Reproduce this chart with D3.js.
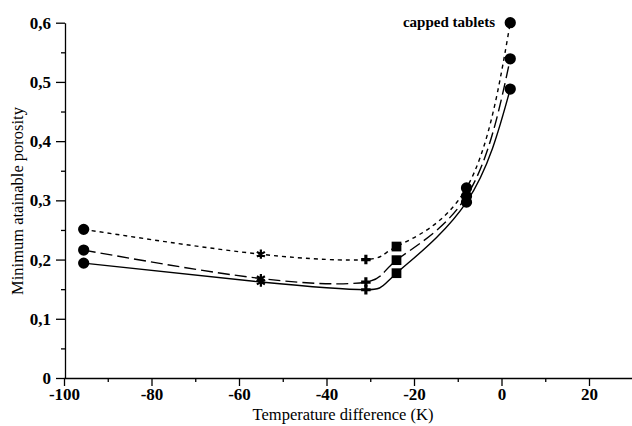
<html>
<head>
<meta charset="utf-8">
<style>
  body { margin: 0; background: #fff; }
  text { font-family: "Liberation Serif", "DejaVu Serif", serif; fill: #000; }
  .tick text { font-weight: bold; font-size: 17px; }
  .axis path, .axis line { stroke: #000; stroke-width: 1.3; }
  .curve { fill: none; stroke: #000; stroke-width: 1.4; }
</style>
</head>
<body>
<svg id="chart" width="632" height="426"></svg>
<script src="https://cdn.jsdelivr.net/npm/d3@7"></script>
<script>
// temperature difference (K) of the measured points
const tempDiff = [-95.5, -55, -31, -24, -8, 2]
const markerType = ["circle", "star", "cross", "square", "circle", "circle"]
// minimum atainable porosity, three curves
const upperSeries = [0.251, 0.209, 0.200, 0.222, 0.321, 0.600]
const middleSeries = [0.216, 0.168, 0.162, 0.199, 0.307, 0.539]
const lowerSeries = [0.194, 0.162, 0.149, 0.177, 0.297, 0.488]
const xTicks = [-100, -80, -60, -40, -20, 0, 20]
const yTicks = [0, 0.1, 0.2, 0.3, 0.4, 0.5, 0.6]

let svg = d3.select("#chart")

let x = d3.scaleLinear().domain([-100, 30]).range([64, 632.75])
let y = d3.scaleLinear().domain([0, 0.6]).range([378, 22.7])

let comma = d => d === 0 ? "0" : d3.format(".1f")(d).replace(".", ",")

// x axis
svg.append("g").attr("class", "axis")
    .attr("transform", "translate(0,378)")
    .call(d3.axisBottom(x).tickValues(xTicks).tickSize(8).tickSizeOuter(0).tickPadding(2)
        .tickFormat(d => String(d)))
svg.append("g").attr("class", "axis")
    .attr("transform", "translate(0,378)")
    .call(d3.axisBottom(x).tickValues(d3.range(-90, 31, 20)).tickSize(4).tickFormat(""))
    .select(".domain").remove()

// y axis
svg.append("g").attr("class", "axis")
    .attr("transform", "translate(65,0)")
    .call(d3.axisLeft(y).tickValues(yTicks).tickSize(9).tickSizeOuter(0).tickPadding(5).tickFormat(comma))
svg.append("g").attr("class", "axis")
    .attr("transform", "translate(65,0)")
    .call(d3.axisLeft(y).tickValues([0.05, 0.15, 0.25, 0.35, 0.45, 0.55]).tickSize(4).tickFormat(""))
    .select(".domain").remove()

// axis titles
svg.append("text")
    .attr("x", 343).attr("y", 420)
    .attr("text-anchor", "middle")
    .style("font-size", "16.5px")
    .text("Temperature difference (K)")
svg.append("text")
    .attr("transform", "translate(23,201) rotate(-90)")
    .attr("text-anchor", "middle")
    .style("font-size", "16.5px")
    .text("Minimum atainable porosity")

// curves
let curves = [
    { values: upperSeries, dash: "4,4" },
    { values: middleSeries, dash: "12,5" },
    { values: lowerSeries, dash: null }
]
let line = d3.line()
    .x((d, i) => x(tempDiff[i]))
    .y(d => y(d))
    .curve(d3.curveNatural)

svg.selectAll(".curve")
    .data(curves)
    .enter().append("path")
    .attr("class", "curve")
    .attr("d", d => line(d.values))
    .attr("stroke-dasharray", d => d.dash)

// markers
let symbols = {
    circle: d3.symbol().type(d3.symbolCircle).size(100),
    star: d3.symbol().type(d3.symbolAsterisk).size(60),
    cross: d3.symbol().type(d3.symbolCross).size(50),
    square: d3.symbol().type(d3.symbolSquare).size(95)
}
let points = []
curves.forEach(c => c.values.forEach((v, i) => points.push({ t: tempDiff[i], v: v, type: markerType[i] })))

svg.selectAll(".pt")
    .data(points)
    .enter().append("path")
    .attr("class", "pt")
    .attr("transform", d => "translate(" + x(d.t) + "," + y(d.v) + ")")
    .attr("d", d => symbols[d.type]())
    .attr("fill", "#000")
    .attr("stroke", "#000")
    .attr("stroke-width", d => d.type == "star" ? 2.2 : 0)

svg.append("text")
    .attr("x", 495).attr("y", 27)
    .attr("text-anchor", "end")
    .style("font-size", "15px")
    .style("font-weight", "bold")
    .text("capped tablets")
</script>
</body>
</html>
